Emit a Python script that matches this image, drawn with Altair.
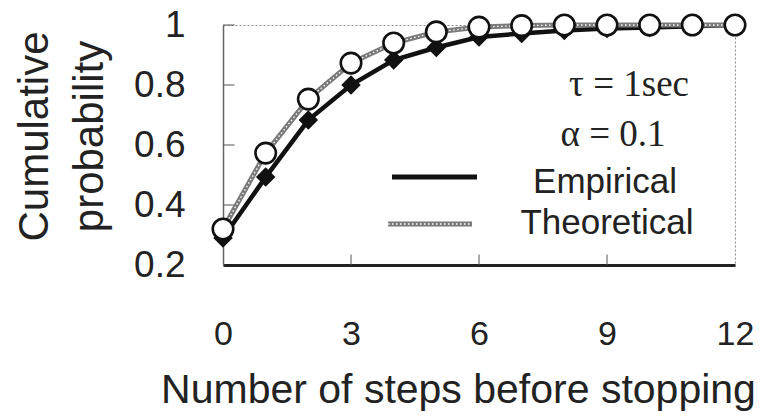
import altair as alt
import pandas as pd

# ---- data ----
steps = list(range(13))
empirical = [0.29, 0.493, 0.683, 0.80, 0.883, 0.925, 0.96, 0.972, 0.982, 0.988, 0.992, 0.996, 1.0]
theoretical = [0.32, 0.573, 0.753, 0.873, 0.94, 0.977, 0.993, 0.998, 1.0, 1.0, 1.0, 1.0, 1.0]
x_ticks = [0, 3, 6, 9, 12]
y_ticks = [0.2, 0.4, 0.6, 0.8, 1.0]
inner_x_ticks = [3, 6, 9]
inner_y_ticks = [0.4, 0.6, 0.8, 1.0]
legend_labels = ["Empirical", "Theoretical"]
param_labels = ["τ = 1sec", "α = 0.1"]

df = pd.DataFrame({"step": steps, "Empirical": empirical, "Theoretical": theoretical})
xt = pd.DataFrame({"t": inner_x_ticks, "lo": [0.2] * len(inner_x_ticks), "hi": [0.235] * len(inner_x_ticks)})
yt = pd.DataFrame({"t": inner_y_ticks, "lo": [0.0] * len(inner_y_ticks), "hi": [0.27] * len(inner_y_ticks)})

SANS = "Liberation Sans"
SERIF = "Liberation Serif"
TXT = "#222222"
GRAY = "#7a7a7a"

xs = alt.Scale(domain=[0, 12], nice=False)
ys = alt.Scale(domain=[0.2, 1.0], nice=False)

x_axis = alt.Axis(
    values=x_ticks, title="Number of steps before stopping", grid=False, ticks=False, tickSize=0,
    domainColor="#222", domainWidth=3, labelFont=SANS, labelFontSize=34, labelColor=TXT,
    labelPadding=52, labelFlush=False, labelOverlap=False,
    titleFont=SANS, titleFontSize=41, titleFontWeight="normal", titleColor=TXT,
    titleX=235, titleY=137, titleBaseline="alphabetic", titleAlign="center",
)
y_axis = alt.Axis(
    values=y_ticks, format="~g", title=["Cumulative", "probability"], grid=False, ticks=False, tickSize=0,
    domainColor="#666", domainWidth=1.5, labelFont=SANS, labelFontSize=37, labelColor=TXT,
    labelPadding=38, labelFlush=False, labelOverlap=False,
    titleFont=SANS, titleFontSize=42, titleFontWeight="normal", titleColor=TXT,
    titleAngle=270, titleX=-176, titleY=111, titleBaseline="alphabetic", titleAlign="center",
    titleLineHeight=55,
)

base = alt.Chart(df)
X = alt.X("step:Q", scale=xs, axis=x_axis)

emp_line = base.mark_line(color="#111", strokeWidth=4.5).encode(x=X, y=alt.Y("Empirical:Q", scale=ys, axis=y_axis))
emp_pts = base.mark_point(shape="diamond", filled=True, color="#111", size=380, opacity=1).encode(
    x=X, y=alt.Y("Empirical:Q", scale=ys, axis=y_axis))
th_line = base.mark_line(color=GRAY, strokeWidth=5).encode(x=X, y=alt.Y("Theoretical:Q", scale=ys, axis=y_axis))
th_tex = base.mark_line(color="white", strokeWidth=1.3, strokeDash=[1.5, 2.5]).encode(
    x=X, y=alt.Y("Theoretical:Q", scale=ys, axis=y_axis))
th_pts = base.mark_point(shape="circle", filled=True, fill="white", stroke="#111", strokeWidth=2.6,
                         size=420, opacity=1).encode(x=X, y=alt.Y("Theoretical:Q", scale=ys, axis=y_axis))

xtick = alt.Chart(xt).mark_rule(color="#555", strokeWidth=1).encode(
    x=alt.X("t:Q", scale=xs, axis=x_axis), y=alt.Y("lo:Q", scale=ys, axis=y_axis), y2="hi:Q")
ytick = alt.Chart(yt).mark_rule(color="#555", strokeWidth=1).encode(
    y=alt.Y("t:Q", scale=ys, axis=y_axis), x=alt.X("lo:Q", scale=xs, axis=x_axis), x2="hi:Q")

ann = alt.Chart(pd.DataFrame({"k": [0]}))
leg_emp = ann.mark_rule(color="#111", strokeWidth=5).encode(x=alt.value(169), x2=alt.value(254), y=alt.value(152))
leg_th = ann.mark_rule(color=GRAY, strokeWidth=5).encode(x=alt.value(165), x2=alt.value(249), y=alt.value(199))
leg_th2 = ann.mark_rule(color="white", strokeWidth=1.3, strokeDash=[1.5, 2.5]).encode(
    x=alt.value(165), x2=alt.value(249), y=alt.value(199))
t_emp = ann.mark_text(font=SANS, fontSize=35, color=TXT, align="center", baseline="middle").encode(
    x=alt.value(382), y=alt.value(157), text=alt.value(legend_labels[0]))
t_th = ann.mark_text(font=SANS, fontSize=35, color=TXT, align="center", baseline="middle").encode(
    x=alt.value(384), y=alt.value(198), text=alt.value(legend_labels[1]))
t_tau = ann.mark_text(font=SERIF, fontSize=37, color=TXT, align="center", baseline="middle").encode(
    x=alt.value(406), y=alt.value(60), text=alt.value(param_labels[0]))
t_alpha = ann.mark_text(font=SERIF, fontSize=37, color=TXT, align="center", baseline="middle").encode(
    x=alt.value(390), y=alt.value(110), text=alt.value(param_labels[1]))

chart = alt.layer(
    xtick, ytick, emp_line, emp_pts, th_line, th_tex, th_pts,
    leg_emp, leg_th, leg_th2, t_emp, t_th, t_tau, t_alpha,
).properties(
    width=512, height=240,
    autosize=alt.AutoSizeParams(type="none"),
    padding={"left": 215, "top": 17, "right": 20, "bottom": 150},
).configure_view(
    stroke="#8a8a8a", strokeDash=[2, 2], strokeWidth=1
)

chart.save("out.html", embed_options={"renderer": "svg", "actions": False})
